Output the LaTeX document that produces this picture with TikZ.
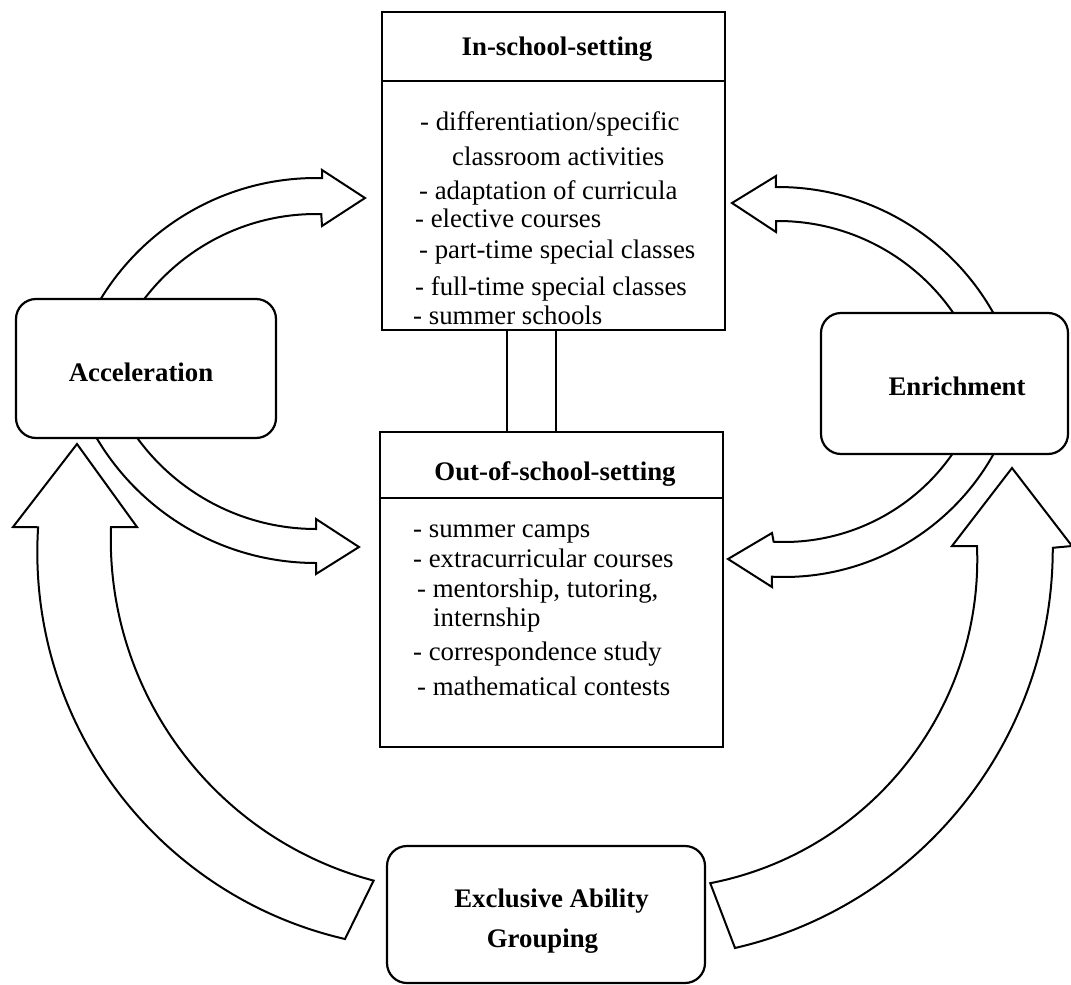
\documentclass[tikz,border=0pt]{standalone}
\usepackage{fontspec}
\setmainfont{Liberation Serif}
\usetikzlibrary{calc}
\begin{document}
\begin{tikzpicture}[x=1pt,y=1pt,
  blockarrow/.style={draw=black, fill=white, line width=2pt, line join=miter},
  box/.style={draw=black, fill=white, line width=2.2pt, rectangle, inner sep=0pt},
  rbox/.style={box, rounded corners=20pt},
  itemtxt/.style={font=\fontsize{26.8}{32}\selectfont, inner sep=0pt, anchor=base west},
  ttl/.style={font=\fontsize{26.8}{32}\selectfont\bfseries, inner sep=0pt, anchor=base},
]
\useasboundingbox (0,0) rectangle (1071,-985);
\fill[white] (0,0) rectangle (1071,-985);

% big block arrows from Exclusive Ability Grouping
\draw[blockarrow] (345,-939) arc[start angle=257, end angle=176.4, radius=397]
  -- (13,-527) -- (77,-444) -- (137,-527) -- (111,-527)
  arc[start angle=178, end angle=255.2, radius=353] -- cycle;
\draw[blockarrow] (735,-948) arc[start angle=-77, end angle=0.1, radius=410]
  -- (1072,-546) -- (1012,-468) -- (952,-546) -- (977,-546)
  arc[start angle=2.3, end angle=-79, radius=330] -- cycle;

% small block arrows
\draw[blockarrow] ($(316,-430)+(160:252)$) arc[start angle=160, end angle=88.6, radius=252]
  -- (322,-170) -- (365,-198) -- (322,-226) -- ($(316,-430)+(88.6:216)$)
  arc[start angle=88.6, end angle=160, radius=216] -- cycle;
\draw[blockarrow] ($(316,-308)+(200:255)$) arc[start angle=200, end angle=270, radius=255]
  -- (316,-574) -- (359,-547) -- (316,-519) -- ($(316,-308)+(270:221)$)
  arc[start angle=270, end angle=200, radius=221] -- cycle;
\draw[blockarrow] ($(778,-434)+(20:247)$) arc[start angle=20, end angle=90.5, radius=247]
  -- (776,-176) -- (732,-203) -- (776,-232) -- ($(778,-434)+(90.5:213)$)
  arc[start angle=90.5, end angle=20, radius=213] -- cycle;
\draw[blockarrow] ($(784,-337)+(340:240)$) arc[start angle=340, end angle=267.1, radius=240]
  -- (772,-587) -- (728,-559) -- (772,-533) -- ($(784,-337)+(267.1:205)$)
  arc[start angle=267.1, end angle=340, radius=205] -- cycle;

% setting boxes
\node[box, minimum width=343pt, minimum height=318pt] (in) at (553.5,-171) {};
\draw[line width=2.2pt] ($(in.north west)+(0,-70)$) -- ($(in.north east)+(0,-70)$);
\node[box, minimum width=343pt, minimum height=315pt] (out) at (551.5,-589.5) {};
\draw[line width=2.2pt] ($(out.north west)+(0,-67)$) -- ($(out.north east)+(0,-67)$);

\coordinate (c1) at (507,0);
\coordinate (c2) at (556,0);
\draw[line width=2.2pt] (in.south -| c1) -- (out.north -| c1);
\draw[line width=2.2pt] (in.south -| c2) -- (out.north -| c2);

% rounded boxes
\node[rbox, minimum width=260pt, minimum height=139pt] (acc) at (146,-368.5) {};
\node[rbox, minimum width=247pt, minimum height=141pt] (enr) at (944.5,-383.5) {};
\node[rbox, minimum width=318pt, minimum height=137pt] (exc) at (546,-914.5) {};

% texts
\node[ttl] (acct) at (141,-381) {Acceleration};
\node[ttl] (enrt) at (957,-395) {Enrichment};
\node[ttl] (exct1) at (551.5,-907) {Exclusive Ability};
\node[ttl] (exct2) at (542.5,-947) {Grouping};
\node[ttl] (intt) at (557,-55) {In-school-setting};
\node[ttl] (outt) at (555,-480) {Out-of-school-setting};

\node[itemtxt] (is1) at (420,-130) {- differentiation/specific};
\node[itemtxt] (is2) at (452,-165) {classroom activities};
\node[itemtxt] (is3) at (419,-199) {- adaptation of curricula};
\node[itemtxt] (is4) at (415,-227) {- elective courses};
\node[itemtxt] (is5) at (419,-258) {- part-time special classes};
\node[itemtxt] (is6) at (415,-295) {- full-time special classes};
\node[itemtxt] (is7) at (413,-324) {- summer schools};

\node[itemtxt] (os1) at (413,-537) {- summer camps};
\node[itemtxt] (os2) at (413,-567) {- extracurricular courses};
\node[itemtxt] (os3) at (417,-597) {- mentorship, tutoring,};
\node[itemtxt] (os4) at (433,-626) {internship};
\node[itemtxt] (os5) at (413,-660) {- correspondence study};
\node[itemtxt] (os6) at (417,-695) {- mathematical contests};
\end{tikzpicture}
\end{document}
